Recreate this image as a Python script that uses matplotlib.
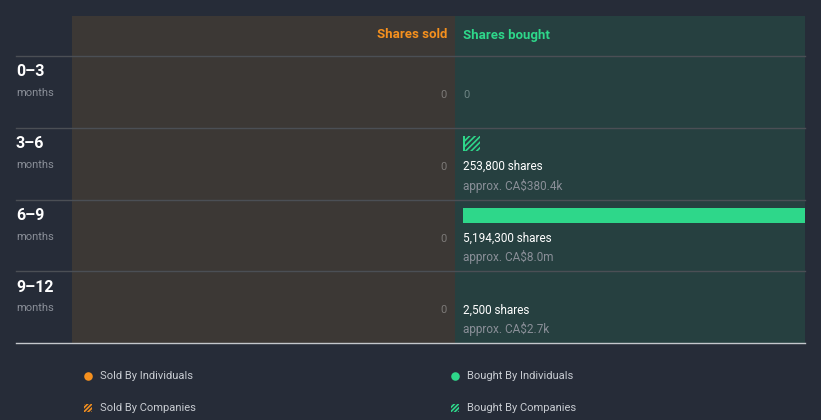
import matplotlib.pyplot as plt
from matplotlib.patches import Rectangle

plt.rcParams["font.family"] = ["Roboto", "DejaVu Sans"]
plt.rcParams["hatch.linewidth"] = 1.2

# Dados (estimados a partir da imagem)
periodos = ["0\u20133", "3\u20136", "6\u20139", "9\u201312"]
vendidas_individuos = [0, 0, 0, 0]
vendidas_empresas = [0, 0, 0, 0]
compradas_individuos = [0, 30000, 5194300, 2500]
compradas_empresas = [0, 223800, 0, 0]
texto_acoes = ["0", "253,800 shares", "5,194,300 shares", "2,500 shares"]
texto_valor = ["", "approx. CA$380.4k", "approx. CA$8.0m", "approx. CA$2.7k"]

# Cores
fundo = "#262c38"
fundo_venda = "#3c3835"
fundo_compra = "#264040"
laranja = "#f5901e"
verde = "#2ed78a"
cinza = "#8a8f98"
linha = "#4b4f55"

W, H = 821, 420
fig = plt.figure(figsize=(W / 100, H / 100), dpi=100, facecolor=fundo)

# Eixo de layout em pixels
ax = fig.add_axes([0, 0, 1, 1])
ax.set_xlim(0, W)
ax.set_ylim(H, 0)
ax.axis("off")

topo, base = 16, 343
x_venda, x_meio, x_fim = 72, 455, 805
cab = 56
alt_linha = (base - cab) / len(periodos)

ax.add_patch(Rectangle((x_venda, topo), x_meio - x_venda, base - topo,
                       facecolor=fundo_venda, edgecolor="none", zorder=0))
ax.add_patch(Rectangle((x_meio, topo), x_fim - x_meio, base - topo,
                       facecolor=fundo_compra, edgecolor="none", zorder=0))

ax.text(x_meio - 8, 35, "Shares sold", color=laranja, fontsize=9.5,
        fontweight="bold", ha="right", va="center")
ax.text(x_meio + 8, 35, "Shares bought", color=verde, fontsize=9.5,
        fontweight="bold", ha="left", va="center")

for i, p in enumerate(periodos):
    y0 = cab + i * alt_linha
    ax.plot([16, x_fim], [y0, y0], color=linha, lw=1, zorder=1)
    ax.text(16, y0 + 16, p, color="white", fontsize=11.5, fontweight="bold",
            ha="left", va="center")
    ax.text(16, y0 + 37, "months", color=cinza, fontsize=8,
            ha="left", va="center")
    total_venda = vendidas_individuos[i] + vendidas_empresas[i]
    ax.text(x_meio - 8, y0 + 39, f"{total_venda:,}", color="#7c7a78",
            fontsize=8, ha="right", va="center")
    if compradas_individuos[i] + compradas_empresas[i] == 0:
        ax.text(x_meio + 8, y0 + 39, texto_acoes[i], color="#6f8584",
                fontsize=8, ha="left", va="center")
    else:
        ax.text(x_meio + 8, y0 + 39, texto_acoes[i], color="white",
                fontsize=8.5, ha="left", va="center")
        ax.text(x_meio + 8, y0 + 58, texto_valor[i], color=cinza,
                fontsize=8.5, ha="left", va="center")

ax.plot([16, x_fim], [base, base], color="#c4c7cc", lw=1, zorder=1)

# Barras de compra
axb = fig.add_axes([(x_meio + 8) / W, 1 - base / H,
                    (x_fim - x_meio - 8) / W, (base - topo) / H])
axb.set_xlim(0, max(a + b for a, b in zip(compradas_individuos, compradas_empresas)))
axb.set_ylim(base, topo)
axb.axis("off")
centros = [cab + i * alt_linha + 15.5 for i in range(len(periodos))]
axb.barh(centros, compradas_individuos, height=15, color=verde, linewidth=0)
axb.barh(centros, compradas_empresas, left=compradas_individuos, height=15,
         color="none", edgecolor=verde, hatch="//////", linewidth=0)

# Legenda
itens = [("Sold By Individuals", laranja, False, 88, 376),
         ("Bought By Individuals", verde, False, 455, 376),
         ("Sold By Companies", laranja, True, 88, 408),
         ("Bought By Companies", verde, True, 455, 408)]
for nome, cor, hach, lx, ly in itens:
    if hach:
        ax.add_patch(Rectangle((lx - 4, ly - 4), 8, 8, facecolor="none",
                               edgecolor=cor, hatch="////////", linewidth=0))
    else:
        ax.scatter([lx], [ly], s=38, color=cor, linewidths=0)
    ax.text(lx + 12, ly, nome, color="#c8ccd2", fontsize=8,
            ha="left", va="center")

fig.savefig("out.png", dpi=100, facecolor=fundo)
